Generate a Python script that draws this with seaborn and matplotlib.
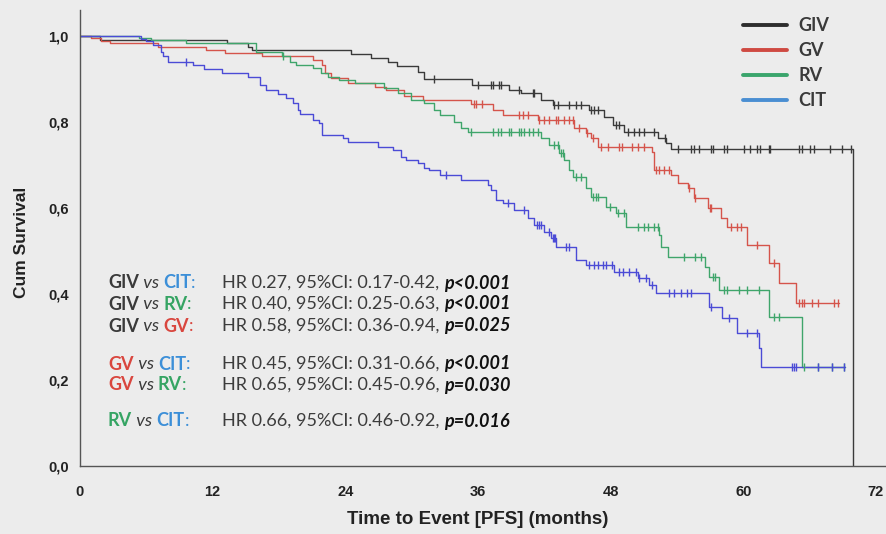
import numpy as np
import pandas as pd
import matplotlib
matplotlib.use("Agg")
import matplotlib.pyplot as plt
from matplotlib.lines import Line2D
import seaborn as sns

# ---- Kaplan-Meier step data (months, cumulative survival after each event) ----
giv_time = [0, 1.8, 13.3, 15.2, 15.6, 24.5, 26.3, 27.9, 28.7, 30.6, 31.1, 35.5, 38.8, 39.9,
            41.7, 42.8, 46.0, 47.4, 48.2, 49.2, 52.3, 53.0, 53.5, 69.9]
giv_surv = [1.0, 0.990, 0.983, 0.974, 0.966, 0.958, 0.949, 0.940, 0.929, 0.915, 0.899, 0.886,
            0.874, 0.867, 0.851, 0.840, 0.828, 0.812, 0.793, 0.777, 0.763, 0.751, 0.737, 0.0]
giv_cens = [32.0, 36.0, 37.2, 37.4, 37.9, 38.1, 39.7, 41.0, 41.1, 42.9, 43.2, 44.2, 44.9, 45.3,
            46.2, 46.5, 46.9, 48.5, 48.8, 49.6, 50.1, 50.6, 51.0, 51.9, 52.9, 54.1, 55.3, 55.5,
            56.0, 57.1, 57.3, 58.3, 58.5, 60.1, 60.6, 61.2, 61.5, 62.3, 62.4, 65.0, 65.3, 66.0,
            66.4, 67.8, 68.9, 69.7]

gv_time = [0, 1.0, 1.9, 2.7, 7.1, 11.4, 13.1, 16.5, 21.1, 21.9, 22.2, 22.7, 24.2, 26.7, 27.7,
           29.3, 31.0, 35.4, 37.4, 38.3, 41.4, 44.7, 45.8, 46.2, 46.9, 51.7, 51.9, 53.5, 54.1,
           55.0, 55.5, 56.8, 58.0, 58.5, 60.3, 62.3, 63.2, 64.8, 68.7]
gv_surv = [1.0, 0.995, 0.989, 0.983, 0.975, 0.967, 0.960, 0.953, 0.944, 0.933, 0.913, 0.902,
           0.891, 0.882, 0.874, 0.860, 0.851, 0.842, 0.828, 0.816, 0.805, 0.786, 0.774, 0.763,
           0.742, 0.730, 0.688, 0.677, 0.658, 0.647, 0.623, 0.600, 0.577, 0.556, 0.514, 0.472,
           0.426, 0.379, 0.379]
gv_cens = [35.6, 35.8, 36.4, 39.7, 40.1, 40.5, 41.5, 42.0, 42.4, 43.1, 43.2, 43.8, 44.2, 44.6,
           45.1, 45.9, 46.4, 47.1, 47.8, 48.8, 49.0, 49.9, 50.5, 51.0, 52.1, 52.4, 52.8, 53.3,
           55.1, 55.6, 57.0, 57.1, 58.9, 59.4, 59.8, 61.2, 62.8, 65.0, 65.3, 65.5, 66.2, 66.8,
           68.2, 68.6]

rv_time = [0, 5.3, 6.4, 9.6, 15.9, 18.3, 19.0, 19.5, 21.1, 21.8, 22.4, 23.4, 24.9, 27.5, 28.8,
           29.9, 31.1, 32.0, 32.6, 33.8, 34.5, 35.1, 41.7, 42.4, 43.3, 43.8, 44.2, 44.6, 45.8,
           46.2, 47.6, 48.5, 49.4, 52.4, 52.6, 53.2, 56.5, 56.9, 57.8, 62.3, 65.3, 69.2]
rv_surv = [1.0, 0.995, 0.990, 0.983, 0.963, 0.952, 0.940, 0.933, 0.925, 0.913, 0.905, 0.898,
           0.890, 0.878, 0.867, 0.851, 0.844, 0.828, 0.816, 0.800, 0.786, 0.777, 0.763, 0.747,
           0.728, 0.712, 0.688, 0.672, 0.647, 0.626, 0.602, 0.588, 0.556, 0.537, 0.510, 0.486,
           0.463, 0.440, 0.409, 0.347, 0.230, 0.230]
rv_cens = [18.4, 35.4, 37.4, 37.8, 38.1, 38.8, 39.0, 39.7, 39.9, 40.2, 40.6, 41.0, 41.4, 42.9,
           43.2, 43.5, 43.7, 44.9, 45.3, 46.4, 46.7, 46.9, 47.9, 48.7, 49.2, 50.5, 51.0, 51.4,
           51.9, 52.3, 54.6, 55.6, 56.2, 57.3, 57.4, 58.3, 58.5, 59.6, 60.3, 61.4, 62.8, 63.2,
           65.5, 66.8, 68.0, 69.1]

cit_time = [0, 5.5, 6.0, 6.6, 7.3, 7.5, 8.0, 10.2, 11.2, 12.8, 15.2, 16.3, 16.8, 17.9, 18.6,
            19.3, 19.7, 19.9, 21.1, 21.6, 21.9, 23.8, 24.2, 27.0, 28.3, 29.0, 29.5, 30.6, 31.1,
            31.6, 32.6, 34.5, 36.9, 37.2, 37.6, 38.3, 39.3, 40.5, 41.1, 42.0, 42.6, 43.1, 44.9,
            45.8, 48.3, 50.5, 51.5, 52.1, 56.9, 58.1, 59.4, 61.4, 61.6, 69.2]
cit_surv = [1.0, 0.993, 0.987, 0.979, 0.963, 0.952, 0.940, 0.931, 0.923, 0.913, 0.905, 0.886,
            0.874, 0.865, 0.856, 0.844, 0.828, 0.819, 0.805, 0.798, 0.770, 0.763, 0.753, 0.742,
            0.735, 0.719, 0.712, 0.705, 0.693, 0.688, 0.677, 0.665, 0.653, 0.642, 0.619, 0.612,
            0.595, 0.577, 0.560, 0.544, 0.530, 0.510, 0.479, 0.467, 0.451, 0.437, 0.421, 0.402,
            0.370, 0.344, 0.309, 0.274, 0.230, 0.230]
cit_cens = [9.6, 33.1, 38.7, 40.2, 41.3, 41.5, 41.7, 42.4, 42.8, 42.9, 43.0, 44.0, 44.2, 46.0,
            46.5, 46.9, 47.3, 47.6, 48.1, 48.8, 49.1, 49.7, 50.3, 50.6, 51.2, 51.7, 53.3, 53.7,
            54.4, 54.9, 55.3, 57.1, 58.7, 60.3, 61.2, 64.4, 64.6, 64.8, 66.8, 68.0, 69.1]

groups = ["GIV", "GV", "RV", "CIT"]
curve_colors = {"GIV": "#3a3a3a", "GV": "#d5544b", "RV": "#3fa56b", "CIT": "#4b4bd6"}
legend_colors = {"GIV": "#2e2e2e", "GV": "#cf4a42", "RV": "#3aa56c", "CIT": "#4a8ed2"}
name_colors = {"GIV": "#3a3a3a", "GV": "#d9463e", "RV": "#35a463", "CIT": "#3c8fd8"}

x_ticks = [0, 12, 24, 36, 48, 60, 72]
y_ticks = [0.0, 0.2, 0.4, 0.6, 0.8, 1.0]
y_tick_labels = ["0,0", "0,2", "0,4", "0,6", "0,8", "1,0"]

comparisons = [("GIV", "CIT", "HR 0.27, 95%CI: 0.17-0.42, ", "p<0.001"),
               ("GIV", "RV", "HR 0.40, 95%CI: 0.25-0.63, ", "p<0.001"),
               ("GIV", "GV", "HR 0.58, 95%CI: 0.36-0.94, ", "p=0.025"),
               ("GV", "CIT", "HR 0.45, 95%CI: 0.31-0.66, ", "p<0.001"),
               ("GV", "RV", "HR 0.65, 95%CI: 0.45-0.96, ", "p=0.030"),
               ("RV", "CIT", "HR 0.66, 95%CI: 0.46-0.92, ", "p=0.016")]

series = {
    "GIV": (giv_time, giv_surv, giv_cens),
    "GV": (gv_time, gv_surv, gv_cens),
    "RV": (rv_time, rv_surv, rv_cens),
    "CIT": (cit_time, cit_surv, cit_cens),
}

steps = pd.concat([pd.DataFrame({"time": t, "surv": s, "group": g})
                   for g, (t, s, c) in series.items()], ignore_index=True)


def surv_at(times, survs, x):
    idx = np.searchsorted(np.asarray(times), x, side="right") - 1
    return np.asarray(survs)[idx]


censored = pd.concat([pd.DataFrame({"time": c, "surv": surv_at(t, s, np.asarray(c)), "group": g})
                      for g, (t, s, c) in series.items()], ignore_index=True)

# ---- figure ----
BG = "#ececec"
sns.set_theme(style="white")
plt.rcParams["font.family"] = ["Liberation Sans Narrow", "Liberation Sans", "DejaVu Sans"]

W, H = 887, 534
fig = plt.figure(figsize=(W / 100, H / 100), dpi=100, facecolor=BG)
ax = fig.add_axes([80 / W, 1 - 466 / H, 1 - 80 / W, (466 - 10) / H])
ax.set_facecolor(BG)

for g in groups:
    sub = steps[steps.group == g]
    sns.lineplot(data=sub, x="time", y="surv", color=curve_colors[g], drawstyle="steps-post",
                 estimator=None, linewidth=1.0, ax=ax, legend=False)
for g in groups:
    sub = censored[censored.group == g]
    sns.scatterplot(data=sub, x="time", y="surv", color=curve_colors[g], marker="|", s=40,
                    linewidth=1.0, ax=ax, legend=False, zorder=3)

ax.set_xlim(0, 73)
ax.set_ylim(0, 1.06)
ax.set_xticks(x_ticks)
ax.set_xticklabels([str(v) for v in x_ticks])
ax.set_yticks(y_ticks)
ax.set_yticklabels(y_tick_labels)
for sp in ["top", "right"]:
    ax.spines[sp].set_visible(False)
for sp in ["left", "bottom"]:
    ax.spines[sp].set_color("#555555")
    ax.spines[sp].set_linewidth(1.0)
ax.tick_params(axis="x", direction="out", length=7, width=1.0, color="#555555",
               labelsize=10.5, pad=7, labelcolor="#222222")
ax.tick_params(axis="y", direction="out", length=4, width=1.0, color="#555555",
               labelsize=10.5, pad=4, labelcolor="#222222")
for lab in ax.get_xticklabels() + ax.get_yticklabels():
    lab.set_fontweight("bold")

ax.set_xlabel("Time to Event [PFS] (months)", fontsize=13.5, fontweight="bold", color="#222222")
ax.set_ylabel("Cum Survival", fontsize=12.5, fontweight="bold", color="#222222")
ax.xaxis.set_label_coords(0.493, -0.098)
ax.yaxis.set_label_coords(-0.063, 0.49)

# ---- legend ----
handles = [Line2D([0], [0], color=legend_colors[g], lw=2.8) for g in groups]
leg = fig.legend(handles, groups, loc="upper left", bbox_to_anchor=(734 / W, 1 - 8 / H),
                 frameon=False, handlelength=2.45, handletextpad=0.6, labelspacing=0.45,
                 borderpad=0.0, prop={"family": ["Lato", "DejaVu Sans"], "weight": "bold",
                                      "size": 13})
for t in leg.get_texts():
    t.set_color("#3a3a3a")

# ---- hazard ratio annotations ----
fig.canvas.draw()
renderer = fig.canvas.get_renderer()
FONT = ["Lato", "DejaVu Sans"]
FS = 13


def draw_segments(x_px, y_px, segments):
    x = x_px
    for text, color, weight, style in segments:
        t = fig.text(x / W, 1 - y_px / H, text, color=color, fontsize=FS, fontweight=weight,
                     fontstyle=style, family=FONT, va="center", ha="left")
        bb = t.get_window_extent(renderer=renderer)
        x += bb.width


row_y = [283, 304, 326, 364, 385, 421]
for (a, b, hr, p), y in zip(comparisons, row_y):
    draw_segments(108, y, [(a, name_colors[a], "bold", "normal"),
                           (" vs ", "#3a3a3a", "normal", "italic"),
                           (b, name_colors[b], "bold", "normal"),
                           (":", name_colors[b], "normal", "normal")])
    draw_segments(222, y, [(hr, "#3c3c3c", "normal", "normal"),
                           (p, "#111111", "bold", "italic")])

fig.savefig("out.png", dpi=100, facecolor=BG)
